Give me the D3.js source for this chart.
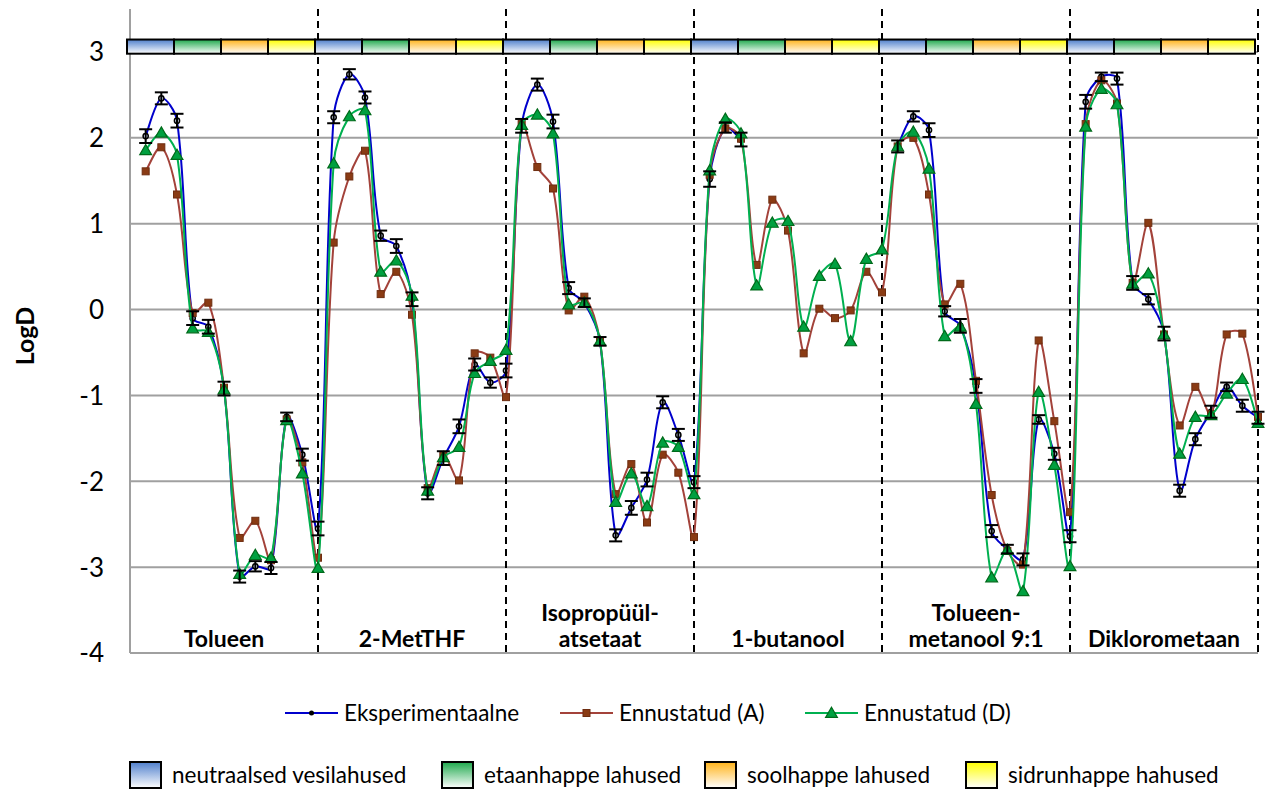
<!DOCTYPE html>
<html><head><meta charset="utf-8">
<script src="https://cdn.jsdelivr.net/npm/d3@7"></script>
<style>body{margin:0;background:#fff}svg{display:block}text{font-family:Lato,"Open Sans",sans-serif}</style>
</head><body><svg id="c" width="1266" height="789"></svg>
<script>
// ---------- data ----------
const groups = [["Tolueen"],["2-MetTHF"],["Isopropüül-","atsetaat"],["1-butanool"],["Tolueen-","metanool 9:1"],["Diklorometaan"]];
const seriesNames = ["Eksperimentaalne","Ennustatud (A)","Ennustatud (D)"];
const mediaNames = ["neutraalsed vesilahused","etaanhappe lahused","soolhappe lahused","sidrunhappe hahused"];
const yTicks = [3,2,1,0,-1,-2,-3,-4];
const N = null;
const experimental = [
  2.02, 2.46, 2.20, -0.10, -0.20, -0.92, -3.11, -2.99, -3.01, -1.25, -1.69, -2.55,
  2.24, 2.74, 2.47, 0.86, 0.74, 0.12, -2.14, -1.73, -1.36, -0.64, -0.85, -0.71,
  2.14, 2.62, 2.19, 0.25, 0.08, -0.37, -2.63, -2.31, -1.98, -1.08, -1.46, -2.01,
  1.52, 2.12, 1.98, N, N, N, N, N, N, N, N, N,
  1.90, 2.25, 2.09, -0.02, -0.19, -0.89, -2.58, -2.79, -2.91, -1.28, -1.68, -2.64,
  2.42, 2.71, 2.69, 0.31, 0.12, -0.28, -2.11, -1.51, -1.19, -0.90, -1.12, -1.26];
const expError = [
  0.08, 0.07, 0.08, 0.08, 0.08, 0.08, 0.07, 0.06, 0.07, 0.05, 0.07, 0.08,
  0.07, 0.06, 0.07, 0.06, 0.08, 0.08, 0.07, 0.08, 0.08, 0.07, 0.06, 0.08,
  0.08, 0.07, 0.08, 0.07, 0.05, 0.05, 0.07, 0.08, 0.08, 0.07, 0.07, 0.07,
  0.09, 0.06, 0.08, N, N, N, N, N, N, N, N, N,
  0.07, 0.06, 0.08, 0.06, 0.08, 0.08, 0.07, 0.05, 0.07, 0.05, 0.07, 0.07,
  0.08, 0.05, 0.07, 0.08, 0.06, 0.08, 0.07, 0.07, 0.07, 0.05, 0.07, 0.07];
const predictedA = [
  1.61, 1.89, 1.34, -0.04, 0.08, -0.91, -2.66, -2.46, -2.92, -1.28, -1.78, -2.89,
  0.78, 1.55, 1.85, 0.18, 0.44, -0.06, -2.08, -1.70, -1.99, -0.51, -0.56, -1.02,
  2.16, 1.66, 1.41, -0.01, 0.15, -0.37, -2.15, -1.80, -2.48, -1.69, -1.90, -2.65,
  1.57, 2.11, 1.99, 0.52, 1.28, 0.92, -0.51, 0.01, -0.10, -0.01, 0.44, 0.20,
  1.90, 2.00, 1.34, 0.06, 0.30, -0.83, -2.16, -2.81, -2.97, -0.36, -1.30, -2.36,
  2.16, 2.67, 2.40, 0.31, 1.01, -0.29, -1.35, -0.90, -1.22, -0.29, -0.28, -1.25];
const predictedD = [
  1.855, 2.06, 1.80, -0.22, -0.26, -0.93, -3.08, -2.86, -2.89, -1.29, -1.91, -3.01,
  1.70, 2.25, 2.32, 0.44, 0.57, 0.16, -2.11, -1.72, -1.60, -0.74, -0.60, -0.47,
  2.15, 2.27, 2.05, 0.06, 0.08, -0.37, -2.24, -1.91, -2.29, -1.55, -1.60, -2.15,
  1.62, 2.22, 2.05, 0.28, 1.01, 1.03, -0.20, 0.39, 0.53, -0.37, 0.59, 0.70,
  1.90, 2.07, 1.64, -0.31, -0.20, -1.10, -3.12, -2.80, -3.28, -0.96, -1.81, -2.99,
  2.13, 2.57, 2.39, 0.30, 0.42, -0.29, -1.68, -1.25, -1.23, -0.98, -0.81, -1.32];

// ---------- chart ----------
const svg = d3.select("#c");
svg.append("rect").attr("width",1266).attr("height",789).attr("fill","#fff");
const x = d3.scaleLinear().domain([0,72]).range([130,1258]);
const y = d3.scaleLinear().domain([-4,3.5]).range([653,9.05]);
const mediaColors = ["#4f7fcc","#1ea84c","#ffb31a","#ffff00"];
const defs = svg.append("defs");
mediaColors.forEach((c,i)=>{
  const g = defs.append("linearGradient").attr("id","g"+i).attr("x1",0).attr("y1",0).attr("x2",0).attr("y2",1);
  g.append("stop").attr("offset","0%").attr("stop-color",c);
  g.append("stop").attr("offset","100%").attr("stop-color","#ffffff");
});

// gridlines
svg.append("g").selectAll("line").data(yTicks).join("line")
  .attr("x1",x(0)).attr("x2",x(72)).attr("y1",d=>y(d)).attr("y2",d=>y(d))
  .attr("stroke","#a0a0a0").attr("stroke-width",2);
svg.append("line").attr("x1",x(0)).attr("x2",x(0)).attr("y1",y(3.5)).attr("y2",y(-4))
  .attr("stroke","#a0a0a0").attr("stroke-width",2);
svg.append("g").selectAll("text").data(yTicks).join("text")
  .attr("x",104).attr("y",d=>y(d)).attr("dy","0.36em").attr("text-anchor","end")
  .attr("font-size",26).attr("fill","#000").text(d=>String(d));
svg.append("text").attr("transform","translate(34,336) rotate(-90)").attr("text-anchor","middle")
  .attr("font-size",25).attr("font-weight","bold").text("LogD");

// group separators
svg.append("g").selectAll("line").data(d3.range(1,7)).join("line")
  .attr("x1",d=>x(d*12)).attr("x2",d=>x(d*12)).attr("y1",y(3.5)).attr("y2",y(-4))
  .attr("stroke","#000").attr("stroke-width",2).attr("stroke-dasharray","7,5");

// group labels
groups.forEach((lines,g)=>{
  const t = svg.append("text").attr("text-anchor","middle").attr("font-size",23).attr("font-weight","bold");
  const n = lines.length;
  lines.forEach((s,k)=>{
    t.append("tspan").attr("x",x(g*12+6)).attr("y",647-(n-1-k)*26).text(s);
  });
});

// colour strip
const strip = d3.range(24);
svg.append("g").selectAll("rect").data(strip).join("rect")
  .attr("x",d=>x(d*3)-3).attr("width",x(3)-x(0))
  .attr("y",y(3.145)).attr("height",y(2.98)-y(3.145))
  .attr("fill",d=>`url(#g${d%4})`).attr("stroke","#000").attr("stroke-width",2);

// smoothed line (Excel-like chord-weighted Bezier)
function smoothPath(vals){
  let d = "";
  let run = [];
  const flush = ()=>{
    if(run.length===0) return;
    d += `M${run[0][0]},${run[0][1]}`;
    const dist=(a,b)=>Math.hypot(b[0]-a[0],b[1]-a[1]);
    for(let i=0;i<run.length-1;i++){
      const p0=run[i-1]||run[i], p1=run[i], p2=run[i+1], p3=run[i+2]||run[i+1];
      const d01=dist(p0,p1), d12=dist(p1,p2), d23=dist(p2,p3);
      const f1 = d01===0 ? 0.5 : d12/(d01+d12);
      const f2 = d23===0 ? 0.5 : d12/(d12+d23);
      const c1=[p1[0]+(p2[0]-p0[0])*f1/3, p1[1]+(p2[1]-p0[1])*f1/3];
      const c2=[p2[0]-(p3[0]-p1[0])*f2/3, p2[1]-(p3[1]-p1[1])*f2/3];
      d += `C${c1[0]},${c1[1]},${c2[0]},${c2[1]},${p2[0]},${p2[1]}`;
    }
    run = [];
  };
  vals.forEach((v,i)=>{ if(v===null) flush(); else run.push([x(i+1),y(v)]); });
  flush();
  return d;
}
const idx = d3.range(72);
const colExp = "#0000cc", colA = "#a3423a", colD = "#00b050";

svg.append("path").attr("d",smoothPath(experimental)).attr("fill","none").attr("stroke",colExp).attr("stroke-width",2);
const expIdx = idx.filter(i=>experimental[i]!==null);
svg.append("g").selectAll("circle").data(expIdx).join("circle")
  .attr("cx",i=>x(i+1)).attr("cy",i=>y(experimental[i])).attr("r",2.6)
  .attr("fill","#dde8ff").attr("stroke","#000").attr("stroke-width",1.5);
svg.append("path").attr("d",smoothPath(predictedA)).attr("fill","none").attr("stroke",colA).attr("stroke-width",2);
svg.append("g").selectAll("rect").data(idx).join("rect")
  .attr("x",i=>x(i+1)-3.5).attr("y",i=>y(predictedA[i])-3.5).attr("width",7).attr("height",7)
  .attr("fill","#8a3b14").attr("stroke","#6e2d10").attr("stroke-width",1);
svg.append("path").attr("d",smoothPath(predictedD)).attr("fill","none").attr("stroke",colD).attr("stroke-width",2);
const tri = d3.symbol().type(d3.symbolTriangle).size(60);
svg.append("g").selectAll("path").data(idx).join("path")
  .attr("d",tri).attr("transform",i=>`translate(${x(i+1)},${y(predictedD[i])+1})`)
  .attr("fill","#00a040").attr("stroke","#006a1a").attr("stroke-width",1.2);
const eb = svg.append("g").attr("stroke","#000").attr("stroke-width",2);
expIdx.forEach(i=>{
  const cx = x(i+1), v = experimental[i], e = expError[i];
  eb.append("line").attr("x1",cx).attr("x2",cx).attr("y1",y(v+e)).attr("y2",y(v-e));
  eb.append("line").attr("x1",cx-6.5).attr("x2",cx+6.5).attr("y1",y(v+e)).attr("y2",y(v+e));
  eb.append("line").attr("x1",cx-6.5).attr("x2",cx+6.5).attr("y1",y(v-e)).attr("y2",y(v-e));
});

// legend row 1
const legX = [285, 560, 805];
const leg = svg.append("g");
seriesNames.forEach((name,k)=>{
  const lx = legX[k], ly = 713;
  const col = [colExp,colA,colD][k];
  leg.append("line").attr("x1",lx).attr("x2",lx+53).attr("y1",ly).attr("y2",ly).attr("stroke",col).attr("stroke-width",2);
  const cx = lx+26.5;
  if(k===0) leg.append("circle").attr("cx",cx).attr("cy",ly).attr("r",2.5).attr("fill","#000");
  if(k===1) leg.append("rect").attr("x",cx-3.5).attr("y",ly-3.5).attr("width",7).attr("height",7).attr("fill","#8a3b14").attr("stroke","#6e2d10");
  if(k===2) leg.append("path").attr("d",tri).attr("transform",`translate(${cx},${ly+1})`).attr("fill","#00a040").attr("stroke","#006a1a").attr("stroke-width",1.2);
  leg.append("text").attr("x",lx+59).attr("y",ly).attr("dy","0.35em").attr("font-size",22.5).text(name);
});
const legX2 = [130, 442, 705, 966];
mediaNames.forEach((name,k)=>{
  const lx = legX2[k], ly = 775;
  leg.append("rect").attr("x",lx).attr("y",ly-13).attr("width",31).attr("height",26)
    .attr("fill",`url(#g${k})`).attr("stroke","#000").attr("stroke-width",2);
  leg.append("text").attr("x",lx+42).attr("y",ly).attr("dy","0.35em").attr("font-size",22.5).text(name);
});
</script></body></html>
